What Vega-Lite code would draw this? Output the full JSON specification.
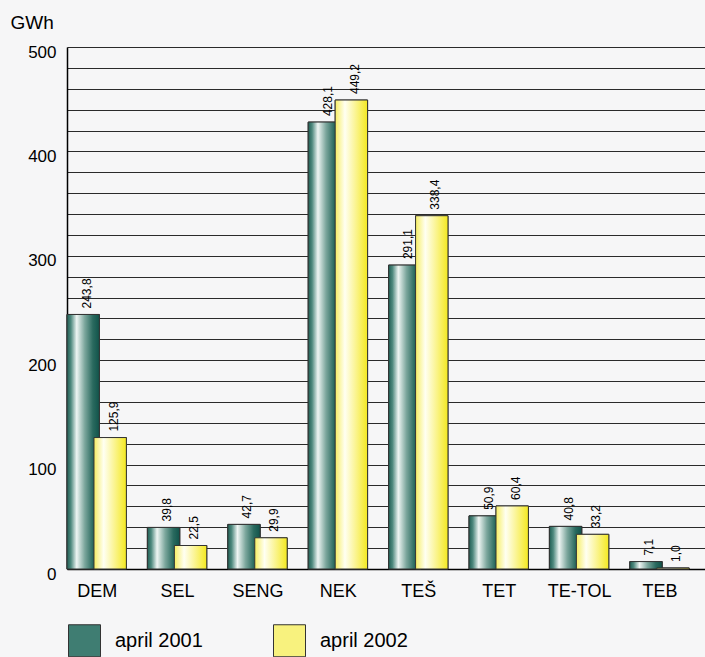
{
  "$schema": "https://vega.github.io/schema/vega-lite/v6.json",
  "width": 638,
  "height": 522,
  "autosize": {"type": "none"},
  "padding": {"left": 67, "top": 47, "right": 0, "bottom": 88},
  "background": "#f6f6f7",
  "config": {
    "view": {"stroke": null},
    "font": "Liberation Sans",
    "locale": {"number": {"decimal": ",", "thousands": ".", "grouping": [3], "currency": ["", ""]}}
  },
  "data": {
    "values": [
      {"cat": "DEM", "series": "april 2001", "v": 243.8},
      {"cat": "DEM", "series": "april 2002", "v": 125.9},
      {"cat": "SEL", "series": "april 2001", "v": 39.8},
      {"cat": "SEL", "series": "april 2002", "v": 22.5},
      {"cat": "SENG", "series": "april 2001", "v": 42.7},
      {"cat": "SENG", "series": "april 2002", "v": 29.9},
      {"cat": "NEK", "series": "april 2001", "v": 428.1},
      {"cat": "NEK", "series": "april 2002", "v": 449.2},
      {"cat": "TEŠ", "series": "april 2001", "v": 291.1},
      {"cat": "TEŠ", "series": "april 2002", "v": 338.4},
      {"cat": "TET", "series": "april 2001", "v": 50.9},
      {"cat": "TET", "series": "april 2002", "v": 60.4},
      {"cat": "TE-TOL", "series": "april 2001", "v": 40.8},
      {"cat": "TE-TOL", "series": "april 2002", "v": 33.2},
      {"cat": "TEB", "series": "april 2001", "v": 7.1},
      {"cat": "TEB", "series": "april 2002", "v": 1.0}
    ]
  },
  "encoding": {
    "x": {
      "field": "cat",
      "type": "nominal",
      "sort": null,
      "scale": {"paddingInner": 0.25, "paddingOuter": 0.0925, "align": 0},
      "axis": {
        "title": null,
        "labelAngle": 0,
        "labelFont": "Liberation Sans",
        "labelFontSize": 18,
        "labelColor": "#000",
        "labelPadding": 13,
        "ticks": false,
        "domain": true,
        "domainColor": "#000",
        "domainWidth": 1.5
      }
    },
    "xOffset": {
      "field": "series",
      "type": "nominal",
      "scale": {"range": [6, 60], "paddingInner": 0, "paddingOuter": 0}
    },
    "y": {
      "field": "v",
      "type": "quantitative",
      "scale": {"domain": [0, 500], "nice": false},
      "axis": {
        "title": "GWh",
        "titleAngle": 0,
        "titleAlign": "left",
        "titleBaseline": "alphabetic",
        "titleX": -57,
        "titleY": -19,
        "titleFontSize": 19,
        "titleFontWeight": "normal",
        "titleColor": "#000",
        "values": [0, 20, 40, 60, 80, 100, 120, 140, 160, 180, 200, 220, 240, 260, 280, 300, 320, 340, 360, 380, 400, 420, 440, 460, 480, 500],
        "labelExpr": "datum.value % 100 === 0 ? datum.label : ''",
        "labelFontSize": 17,
        "labelColor": "#000",
        "labelPadding": 11,
        "labelOffset": 5,
        "ticks": false,
        "grid": true,
        "gridColor": "#2a2a2a",
        "gridWidth": 1,
        "gridOpacity": 1,
        "domain": true,
        "domainColor": "#000",
        "domainWidth": 1.5
      }
    }
  },
  "layer": [
    {
      "mark": {"type": "bar", "width": {"band": 1.2}, "stroke": "#333", "strokeWidth": 1},
      "encoding": {
        "fill": {
          "field": "series",
          "type": "nominal",
          "scale": {"range": ["#3f7d72", "#f8f27e"]},
          "legend": {
            "title": null,
            "orient": "none",
            "legendX": 1,
            "legendY": 577,
            "direction": "horizontal",
            "columns": 2,
            "padding": 0,
            "symbolType": "square",
            "symbolSize": 1024,
            "symbolStrokeColor": "#333",
            "symbolStrokeWidth": 1,
            "symbolOpacity": 1,
            "labelFontSize": 20,
            "labelColor": "#000",
            "labelOffset": 14,
            "columnPadding": 68
          }
        }
      }
    },
    {
      "mark": {"type": "bar", "width": {"band": 1.2}, "stroke": "#333", "strokeWidth": 1},
      "encoding": {
        "fill": {
          "condition": {
            "test": "datum.series === 'april 2001'",
            "value": {"gradient": "linear", "x1": 0, "x2": 1, "y1": 0, "y2": 0, "stops": [
              {"offset": 0, "color": "#1f5d53"},
              {"offset": 0.12, "color": "#4e897e"},
              {"offset": 0.3, "color": "#eef5f3"},
              {"offset": 0.55, "color": "#7ba69c"},
              {"offset": 0.8, "color": "#2a6a5f"},
              {"offset": 1, "color": "#10534a"}
            ]}
          },
          "value": {"gradient": "linear", "x1": 0, "x2": 1, "y1": 0, "y2": 0, "stops": [
            {"offset": 0, "color": "#f6ee62"},
            {"offset": 0.3, "color": "#fffff2"},
            {"offset": 0.6, "color": "#fbf59a"},
            {"offset": 1, "color": "#f4e920"}
          ]}
        }
      }
    },
    {
      "mark": {"type": "text", "angle": 270, "align": "left", "baseline": "middle", "dx": 6, "fontSize": 12, "color": "#000"},
      "encoding": {
        "text": {"field": "v", "type": "quantitative", "format": ".1f"}
      }
    }
  ]
}
